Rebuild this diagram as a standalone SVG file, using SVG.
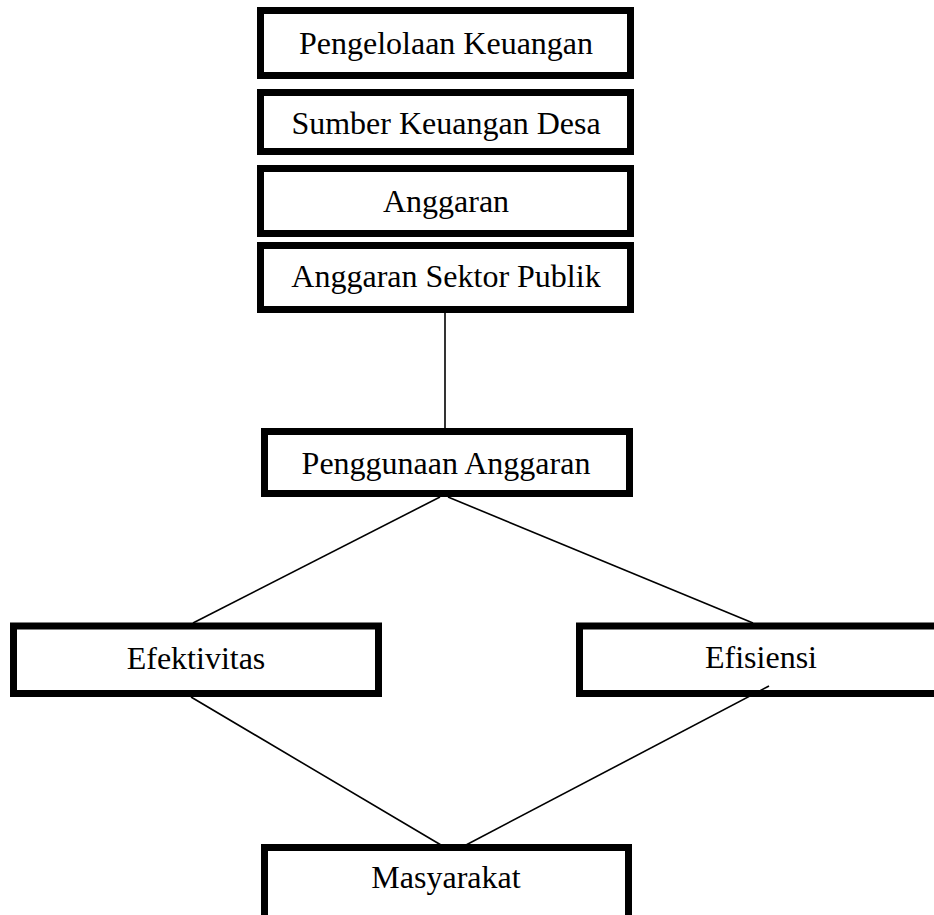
<svg xmlns="http://www.w3.org/2000/svg" width="934" height="915" viewBox="0 0 934 915">
<style>
.box{fill:#fff;stroke:#000;stroke-width:7}
.lbl{font-family:"Liberation Serif","Times New Roman",serif;font-size:32px;fill:#000;text-anchor:middle}
.con{stroke:#000;stroke-width:1.6;fill:none}
</style>
<rect width="934" height="915" fill="#fff"/>
<g id="n1"><rect class="box" x="260.5" y="10.5" width="370" height="65"/><text class="lbl" x="446" y="54">Pengelolaan Keuangan</text></g>
<g id="n2"><rect class="box" x="260.5" y="92.5" width="370" height="59"/><text class="lbl" x="446" y="134">Sumber Keuangan Desa</text></g>
<g id="n3"><rect class="box" x="260.5" y="168.5" width="370" height="65"/><text class="lbl" x="446" y="212">Anggaran</text></g>
<g id="n4"><rect class="box" x="260.5" y="245.5" width="370" height="64"/><text class="lbl" x="446" y="287">Anggaran Sektor Publik</text></g>
<g id="n5"><rect class="box" x="264.5" y="431.5" width="365" height="62"/><text class="lbl" x="446" y="474">Penggunaan Anggaran</text></g>
<g id="n6"><rect class="box" x="13.5" y="626" width="365" height="67.5"/><text class="lbl" x="196" y="669">Efektivitas</text></g>
<g id="n7"><rect class="box" x="579.5" y="626" width="400" height="67.5"/><text class="lbl" x="761" y="668">Efisiensi</text></g>
<g id="n8"><rect class="box" x="264.5" y="847.5" width="364" height="100"/><text class="lbl" x="446" y="888">Masyarakat</text></g>
<g id="connectors">
<line class="con" x1="445" y1="313" x2="445" y2="428"/>
<line class="con" x1="440" y1="497" x2="193" y2="623"/>
<line class="con" x1="448" y1="497" x2="753" y2="623"/>
<line class="con" x1="191" y1="697" x2="441" y2="845"/>
<line class="con" x1="769" y1="686" x2="466" y2="845"/>
</g>
</svg>
